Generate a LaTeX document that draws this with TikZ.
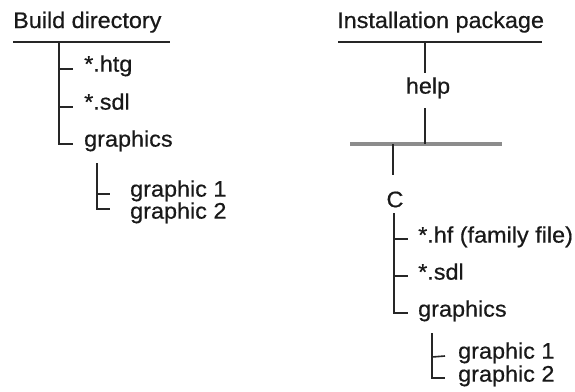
\documentclass[tikz,border=0pt]{standalone}
\usepackage{fontspec}
\setmainfont{Liberation Sans}[FakeStretch=1.04,FakeBold=0.6]
\begin{document}
\begin{tikzpicture}[x=1pt,y=-1pt,
  lbl/.style={inner sep=0pt,anchor=mid west,text=black!90,font=\fontsize{22.5}{27}\selectfont},
  ttl/.style={inner sep=0pt,anchor=base west,text=black!90,font=\fontsize{22.5}{27}\selectfont},
  ctr/.style={inner sep=0pt,text=black!90,font=\fontsize{22.5}{27}\selectfont},
  ln/.style={line width=1.6pt,black!85},
  bar/.style={line width=4pt,black!45}]
\fill[white] (0,0) rectangle (575,391);
\useasboundingbox (0,0) rectangle (575,391);

% ---------- left tree ----------
\node[ttl] (bd) at (13,28) {Build directory};
\coordinate (bdl) at (13,42);
\coordinate (bdr) at (170,42);
\draw[ln] (bdl) -- (bdr);
\coordinate (tL) at (59,42);
\node[lbl] (htg) at (84,69) {*.htg};
\node[lbl] (sdlL) at (84,107) {*.sdl};
\node[lbl] (grL) at (84,144) {graphics};
\draw[ln] (tL) |- ([xshift=-11pt]grL.mid west);
\draw[ln] (tL |- htg.mid west) -- ([xshift=-11pt]htg.mid west);
\draw[ln] (tL |- sdlL.mid west) -- ([xshift=-11pt]sdlL.mid west);

\node[lbl] (g1L) at (130,194) {graphic 1};
\node[lbl] (g2L) at (130,216) {graphic 2};
\coordinate (sL) at (97,163);
\draw[ln] (sL) |- ([xshift=-20pt,yshift=7pt]g2L.mid west);
\draw[ln] (sL |- g1L.mid west) -- ([xshift=-20pt]g1L.mid west);

% ---------- right tree ----------
\node[ttl] (ip) at (337,28) {Installation package};
\coordinate (ipl) at (338,42);
\coordinate (ipr) at (542,42);
\draw[ln] (ipl) -- (ipr);
\node[ctr,anchor=mid] (help) at (428,91) {help};
\coordinate (ipt) at (425,42);
\coordinate (hT) at (425,73);
\coordinate (hB) at (425,108);
\coordinate (barl) at (350,144);
\coordinate (barr) at (502,144);
\coordinate (barh) at (425,144);
\coordinate (barc) at (393,144);
\draw[bar] (barl) -- (barr);
\draw[ln] (ipt) -- (hT);
\draw[ln] (hB) -- (barh);
\node[ctr] (C) at (395,199.5) {C};
\coordinate (cT) at (393,175);
\draw[ln] (barc) -- (cT);

\node[lbl] (hf) at (418,240) {*.hf (family file)};
\node[lbl] (sdlR) at (418,277) {*.sdl};
\node[lbl] (grR) at (418,314) {graphics};
\coordinate (tR) at (394,213);
\draw[ln] (tR) |- ([xshift=-10pt,yshift=1pt]grR.mid west);
\draw[ln] (tR |- hf.mid west) ++(0,-1) -- ([xshift=-10pt,yshift=1pt]hf.mid west);
\draw[ln] (tR |- sdlR.mid west) ++(0,-1) -- ([xshift=-10pt,yshift=1pt]sdlR.mid west);

\node[lbl] (g1R) at (458,356) {graphic 1};
\node[lbl] (g2R) at (458,379) {graphic 2};
\coordinate (sR) at (432,333);
\draw[ln] (sR) |- ([xshift=-13pt,yshift=1pt]g2R.mid west);
\draw[ln] (sR |- g1R.mid west) ++(0,1) -- ([xshift=-13pt]g1R.mid west);
\end{tikzpicture}
\end{document}
